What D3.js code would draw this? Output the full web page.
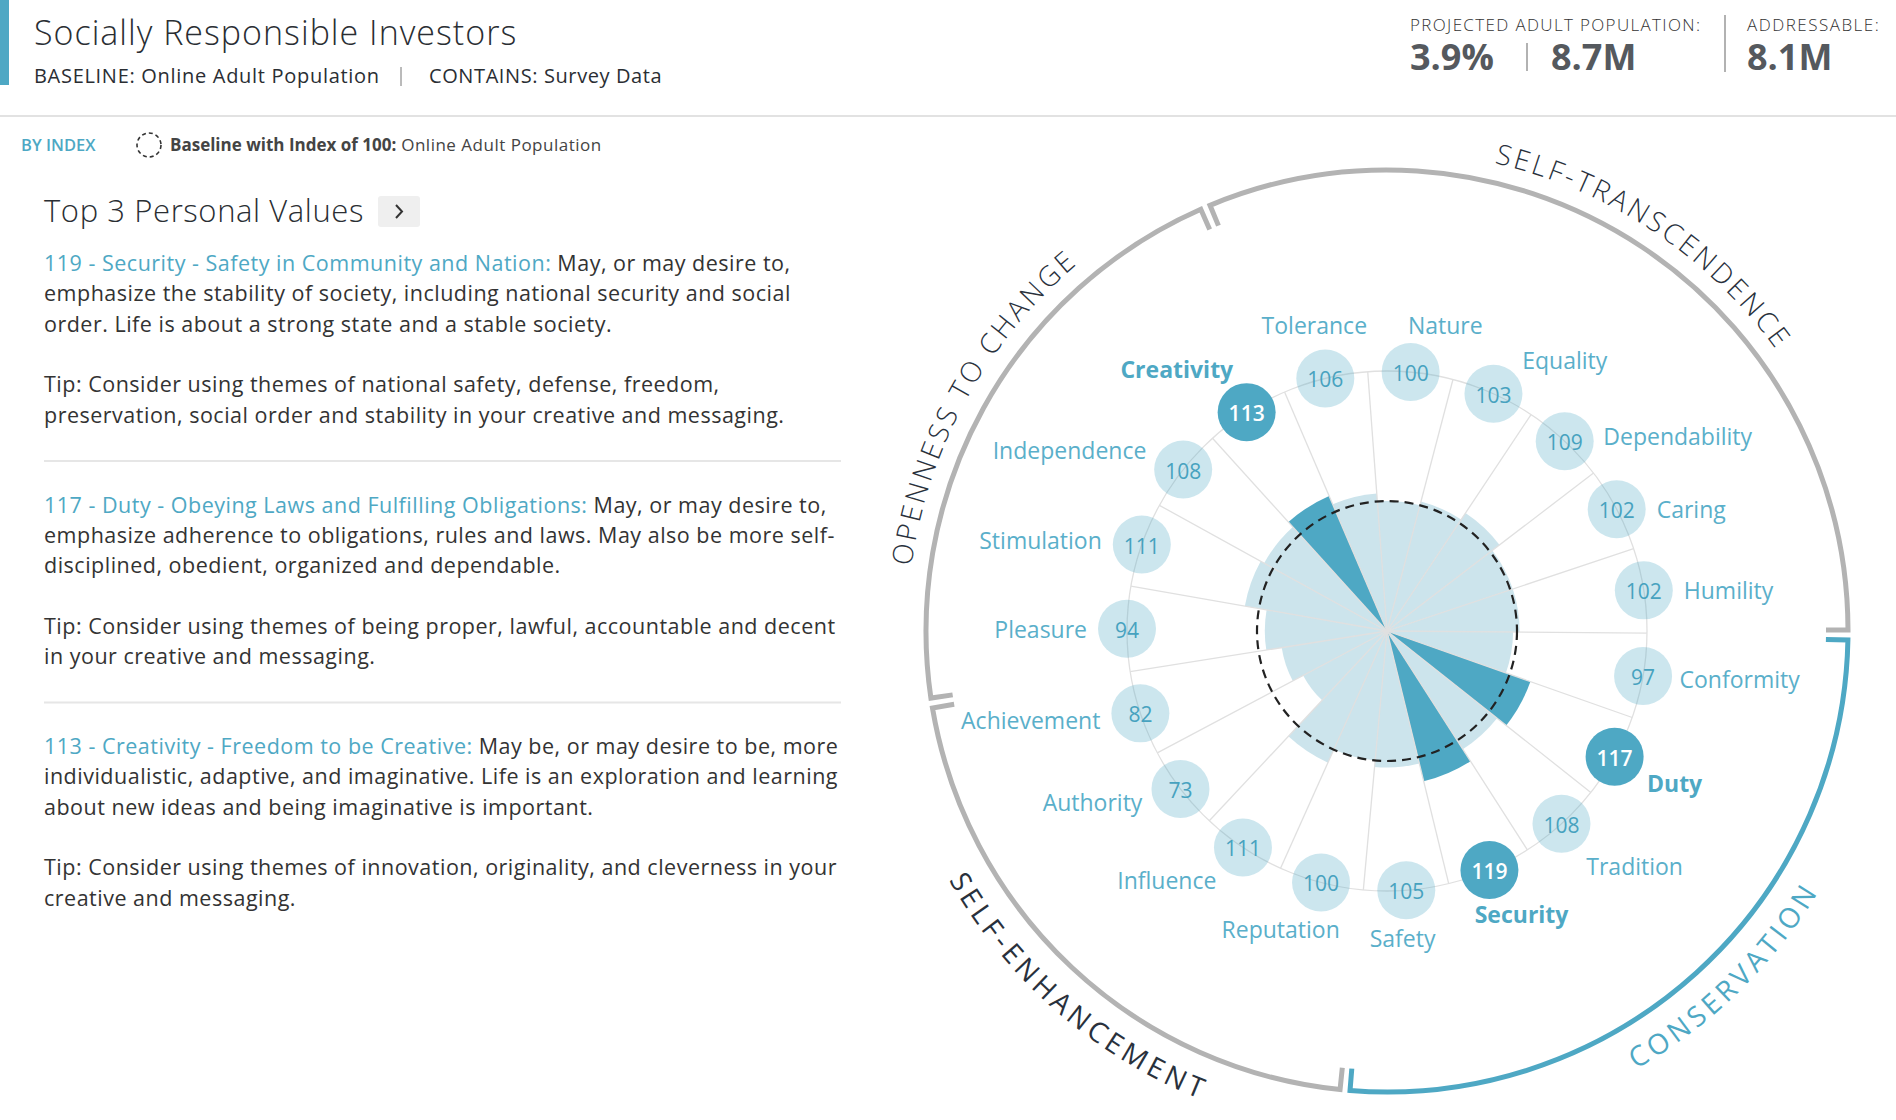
<!DOCTYPE html>
<html>
<head>
<meta charset="utf-8">
<script src="https://cdn.jsdelivr.net/npm/d3@7"></script>
<style>
  html, body { margin: 0; padding: 0; background: #fff; }
  svg { display: block; font-family: "Open Sans", "Noto Sans", sans-serif; }
</style>
</head>
<body>
<svg id="chart" width="1896" height="1120"></svg>
<script>
// ---------------- DATA ----------------
const categories = ["Tolerance","Nature","Equality","Dependability","Caring","Humility","Conformity","Duty","Tradition","Security","Safety","Reputation","Influence","Authority","Achievement","Pleasure","Stimulation","Independence","Creativity"];
const values = [106,100,103,109,102,102,97,117,108,119,105,100,111,73,82,94,111,108,113];
const groupNames = ["SELF-TRANSCENDENCE","CONSERVATION","SELF-ENHANCEMENT","OPENNESS TO CHANGE"];
const categoryGroup = [0,0,0,0,0,0,1,1,1,1,1,2,2,2,2,3,3,3,3];
const baselineIndex = 100;

const title = "Socially Responsible Investors";
const baselineLabel = "Online Adult Population";
const containsLabel = "Survey Data";
const projectedPct = "3.9%";
const projectedPop = "8.7M";
const addressable = "8.1M";

const valueSubtitles = {
  Security: "Safety in Community and Nation",
  Duty: "Obeying Laws and Fulfilling Obligations",
  Creativity: "Freedom to be Creative"
};
const valueDescLines = {
  Security: [" May, or may desire to,", "emphasize the stability of society, including national security and social", "order. Life is about a strong state and a stable society."],
  Duty: [" May, or may desire to,", "emphasize adherence to obligations, rules and laws. May also be more self-", "disciplined, obedient, organized and dependable."],
  Creativity: [" May be, or may desire to be, more", "individualistic, adaptive, and imaginative. Life is an exploration and learning", "about new ideas and being imaginative is important."]
};
const valueTipLines = {
  Security: ["Tip: Consider using themes of national safety, defense, freedom,", "preservation, social order and stability in your creative and messaging."],
  Duty: ["Tip: Consider using themes of being proper, lawful, accountable and decent", "in your creative and messaging."],
  Creativity: ["Tip: Consider using themes of innovation, originality, and cleverness in your", "creative and messaging."]
};

// ---------------- STYLE ----------------
const BLUE = "#4ea8c4";
const PALE = "rgba(78,168,196,0.29)";
const TEXT = "#2a2e33";

const svg = d3.select("#chart");

// ---------------- HEADER ----------------
svg.append("rect").attr("x",0).attr("y",0).attr("width",9).attr("height",85).attr("fill",BLUE);
svg.append("text").attr("x",34).attr("y",45).attr("font-size",34).attr("font-weight",300).attr("letter-spacing",1).attr("fill",TEXT).text(title);
svg.append("text").attr("x",34).attr("y",83).attr("font-size",20).attr("letter-spacing",0.7).attr("fill",TEXT).text("BASELINE: " + baselineLabel);
svg.append("line").attr("x1",401).attr("x2",401).attr("y1",67).attr("y2",86).attr("stroke","#777").attr("stroke-width",1);
svg.append("text").attr("x",429).attr("y",83).attr("font-size",20).attr("letter-spacing",0.6).attr("fill",TEXT).text("CONTAINS: " + containsLabel);

const statsG = svg.append("g");
statsG.append("text").attr("x",1410).attr("y",31).attr("font-size",17).attr("font-weight",300).attr("letter-spacing",1.35).attr("fill","#333").text("PROJECTED ADULT POPULATION:");
statsG.append("text").attr("x",1410).attr("y",70).attr("font-size",36).attr("font-weight",700).attr("fill","#55595e").text(projectedPct);
statsG.append("line").attr("x1",1527).attr("x2",1527).attr("y1",43).attr("y2",71).attr("stroke","#999").attr("stroke-width",1.5);
statsG.append("text").attr("x",1551).attr("y",70).attr("font-size",36).attr("font-weight",700).attr("fill","#55595e").text(projectedPop);
statsG.append("line").attr("x1",1725).attr("x2",1725).attr("y1",15).attr("y2",72).attr("stroke","#999").attr("stroke-width",1.5);
statsG.append("text").attr("x",1747).attr("y",31).attr("font-size",17).attr("font-weight",300).attr("letter-spacing",1.5).attr("fill","#333").text("ADDRESSABLE:");
statsG.append("text").attr("x",1747).attr("y",70).attr("font-size",36).attr("font-weight",700).attr("fill","#55595e").text(addressable);

svg.append("line").attr("x1",0).attr("x2",1896).attr("y1",116).attr("y2",116).attr("stroke","#e2e2e2").attr("stroke-width",2);

// legend row
svg.append("text").attr("x",21).attr("y",151).attr("font-size",16.5).attr("font-weight",600).attr("fill",BLUE).text("BY INDEX");
svg.append("circle").attr("cx",149).attr("cy",145).attr("r",12).attr("fill","none").attr("stroke","#333").attr("stroke-width",1.6).attr("stroke-dasharray","4 3");
const legT = svg.append("text").attr("x",170).attr("y",151).attr("font-size",17).attr("fill","#444");
legT.append("tspan").attr("font-weight",700).text("Baseline with Index of " + baselineIndex + ":");
legT.append("tspan").attr("letter-spacing",0.5).text(" " + baselineLabel);

// ---------------- LEFT PANEL ----------------
svg.append("text").attr("x",44).attr("y",222).attr("font-size",31).attr("font-weight",300).attr("letter-spacing",0.6).attr("fill",TEXT).text("Top 3 Personal Values");
svg.append("rect").attr("x",378).attr("y",196).attr("width",42).attr("height",31).attr("rx",3).attr("fill","#efefef");
svg.append("path").attr("d","M396,205 L402,211.5 L396,218").attr("fill","none").attr("stroke","#333").attr("stroke-width",2);

const order = d3.range(categories.length).sort((a,b) => values[b]-values[a]);
const top3 = order.slice(0,3);
const top3Set = new Set(top3);

top3.forEach((idx, k) => {
  const name = categories[idx];
  const y0 = 271 + k*241.5;
  const lh = 30.3;
  const g = svg.append("g").attr("font-size",21.5).attr("letter-spacing",0.5).attr("fill","#333");
  const t0 = g.append("text").attr("x",44).attr("y",y0);
  t0.append("tspan").attr("fill",BLUE).text(values[idx] + " - " + name + " - " + valueSubtitles[name] + ":");
  t0.append("tspan").text(valueDescLines[name][0]);
  valueDescLines[name].slice(1).forEach((ln,i) => {
    g.append("text").attr("x",44).attr("y",y0 + (i+1)*lh).text(ln);
  });
  valueTipLines[name].forEach((ln,i) => {
    g.append("text").attr("x",44).attr("y",y0 + (i+4)*lh).text(ln);
  });
  if (k < 2) {
    svg.append("line").attr("x1",44).attr("x2",841).attr("y1",y0+190).attr("y2",y0+190).attr("stroke","#e6e6e6").attr("stroke-width",2);
  }
});

// ---------------- RADIAL CHART ----------------
const cx = 1387, cy = 631;
const ringR = 461, bubbleRingR = 260, bubbleR = 29;
const startAngle = -23.2 * Math.PI/180;

const angle = d3.scaleBand().domain(categories).range([startAngle, startAngle + 2*Math.PI]).padding(0);
const bw = angle.bandwidth();
const rScale = d3.scaleLinear().domain([0, baselineIndex]).range([0, 130]);

const chart = svg.append("g").attr("transform", `translate(${cx},${cy})`);
const pt = (r,a) => [r*Math.sin(a), -r*Math.cos(a)];

// wedges
const arcGen = d3.arc().innerRadius(0);
chart.append("g").selectAll("path").data(categories).join("path")
  .attr("d", (d,i) => arcGen({outerRadius: rScale(values[i]), startAngle: angle(d), endAngle: angle(d)+bw}))
  .attr("fill", (d,i) => top3Set.has(i) ? BLUE : "#cce4ec");

// spokes
chart.append("g").selectAll("line").data(categories).join("line")
  .attr("x1",0).attr("y1",0)
  .attr("x2", d => pt(bubbleRingR, angle(d))[0])
  .attr("y2", d => pt(bubbleRingR, angle(d))[1])
  .attr("stroke","#e0e0e0").attr("stroke-width",1.3);

// baseline dashed circle
chart.append("circle").attr("r", rScale(baselineIndex)).attr("fill","none")
  .attr("stroke","#222").attr("stroke-width",2.2).attr("stroke-dasharray","9 6");

// bubble ring
chart.append("circle").attr("r", bubbleRingR).attr("fill","none").attr("stroke","#e0e0e0").attr("stroke-width",1.3);

// bubbles
const mid = d => angle(d) + bw/2;
const bub = chart.append("g").selectAll("g").data(categories).join("g")
  .attr("transform", d => `translate(${pt(bubbleRingR, mid(d))})`);
bub.append("circle").attr("r", bubbleR).attr("fill", (d,i) => top3Set.has(i) ? BLUE : PALE);
bub.append("text").attr("text-anchor","middle").attr("dominant-baseline","central").attr("dy",1)
  .attr("font-size",21)
  .attr("font-weight",(d,i) => top3Set.has(i) ? 600 : 400)
  .attr("fill",(d,i) => top3Set.has(i) ? "#fff" : "#47a2bf")
  .text((d,i) => values[i]);

// labels: placed beside each bubble, direction derived from its angle
function labelPlacement(a) {
  const s = Math.sin(a), c = -Math.cos(a);
  const gap = bubbleR + 11;
  let anchor, dx, dy;
  if (Math.abs(s) < 0.4) {
    anchor = "middle";
    if (c < 0) { dx = s*139 + 22; dy = c*(bubbleR+13) - Math.abs(s)*55; }
    else { dx = s*112 - 12; dy = c*(bubbleR+19); }
  } else if (s > 0) {
    anchor = "start";
    if (c < 0) { dx = gap*Math.min(1, 0.35 + s*0.9); dy = -Math.pow(-c,8)*70; }
    else { dx = s*(bubbleR+8); dy = Math.pow(Math.max(0,c-0.15)/0.85, 0.8)*56; }
  } else {
    anchor = "end";
    if (c > 0) { dx = -gap*Math.min(1, Math.abs(s)*1.2); dy = 20*c + 70*Math.max(0, c-0.6); }
    else { dx = -gap*Math.min(1, Math.max(0, Math.abs(s)-0.4)*2.4); dy = -Math.pow(-c,2.5)*66; }
  }
  return {anchor, dx, dy};
}
bub.append("text")
  .each(function(d,i) {
    const p = labelPlacement(mid(d));
    d3.select(this).attr("x",p.dx).attr("y",p.dy).attr("text-anchor",p.anchor);
  })
  .attr("dominant-baseline","central")
  .attr("font-size",23)
  .attr("font-weight",(d,i) => top3Set.has(i) ? 700 : 400)
  .attr("fill",(d,i) => top3Set.has(i) ? BLUE : "#5aafca")
  .text(d => d);

// group ring with bracket ends
const topGroup = categoryGroup[top3[0]];
const groupExt = groupNames.map((name,g) => {
  const idx = d3.range(categories.length).filter(i => categoryGroup[i] === g);
  const a0 = angle(categories[idx[0]]);
  const a1 = angle(categories[idx[idx.length-1]]) + bw;
  return {name, g, a0, a1};
});
const tick = 22, padPx = 5;
const defs = svg.append("defs");
groupExt.forEach(ge => {
  const pa = padPx/ringR;
  const b0 = ge.a0 + pa, b1 = ge.a1 - pa;
  const p = d3.path();
  const s0 = pt(ringR - tick, b0);
  p.moveTo(s0[0], s0[1]);
  const s1 = pt(ringR, b0);
  p.lineTo(s1[0], s1[1]);
  p.arc(0,0,ringR, b0 - Math.PI/2, b1 - Math.PI/2, false);
  const s2 = pt(ringR - tick, b1);
  p.lineTo(s2[0], s2[1]);
  const col = ge.g === topGroup ? BLUE : "#b3b3b3";
  chart.append("path").attr("d", p.toString()).attr("fill","none").attr("stroke",col).attr("stroke-width",5);

  // text path
  const m = (ge.a0 + ge.a1)/2;
  const isTop = Math.cos(m) > 0;
  const tp = d3.path();
  let r, offset;
  if (isTop) {
    r = ringR + 19;
    const q = pt(r, ge.a0); tp.moveTo(q[0], q[1]);
    tp.arc(0,0,r, ge.a0 - Math.PI/2, ge.a1 - Math.PI/2, false);
    offset = r*(ge.a1-ge.a0)/2;
  } else {
    r = ringR + 43;
    const q = pt(r, ge.a1); tp.moveTo(q[0], q[1]);
    tp.arc(0,0,r, ge.a1 - Math.PI/2, ge.a0 - Math.PI/2, true);
    offset = r*((ge.a1-ge.a0)/2 + 2.2*Math.PI/180);
  }
  const id = "grp" + ge.g;
  defs.append("path").attr("id", id).attr("d", tp.toString()).attr("transform", `translate(${cx},${cy})`);
  svg.append("text").attr("font-size",28).attr("font-weight",isTop ? 300 : 400).attr("letter-spacing",isTop ? 3 : 4.2)
    .attr("fill", ge.g === topGroup ? BLUE : "#29313c")
    .append("textPath").attr("href","#"+id).attr("startOffset",offset).attr("text-anchor","middle")
    .text(ge.name);
});
</script>
</body>
</html>
